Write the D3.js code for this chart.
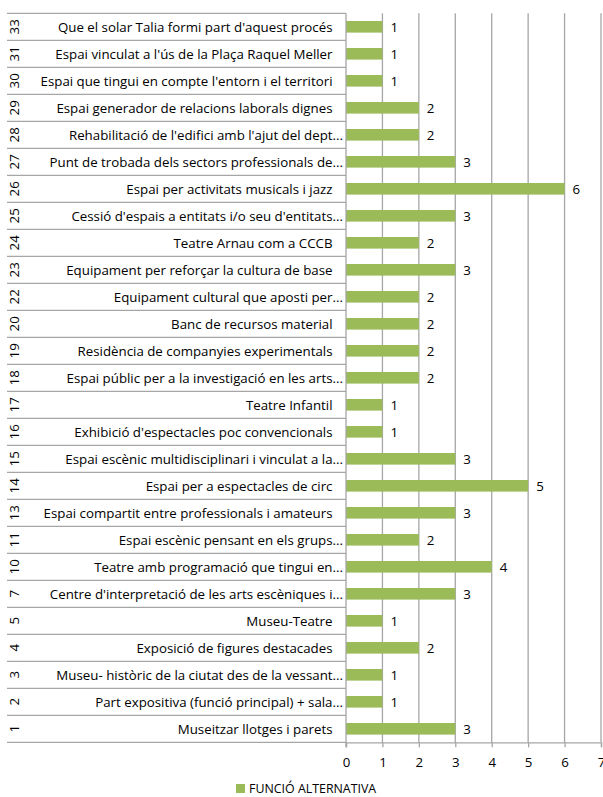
<!DOCTYPE html>
<html><head><meta charset="utf-8">
<script src="https://cdn.jsdelivr.net/npm/d3@7"></script>
<style>
html,body{margin:0;padding:0;background:#fff;}
svg{display:block;font-family:"Open Sans",sans-serif;}
</style></head>
<body>
<script>
const codes = ["33","31","30","29","28","27","26","25","24","23","22","20","19","18","17","16","15","14","13","11","10","7","5","4","3","2","1"];
const labels = [
 "Que el solar Talia formi part d'aquest procés",
 "Espai vinculat a l'ús de la Plaça Raquel Meller",
 "Espai que tingui en compte l'entorn i el territori",
 "Espai generador de relacions laborals dignes",
 "Rehabilitació de l'edifici amb l'ajut del dept...",
 "Punt de trobada dels sectors professionals de...",
 "Espai per activitats musicals i jazz",
 "Cessió d'espais a entitats i/o seu d'entitats...",
 "Teatre Arnau com a CCCB",
 "Equipament per reforçar la cultura de base",
 "Equipament cultural que aposti per...",
 "Banc de recursos material",
 "Residència de companyies experimentals",
 "Espai públic per a la investigació en les arts...",
 "Teatre Infantil",
 "Exhibició d'espectacles poc convencionals",
 "Espai escènic multidisciplinari i vinculat a la...",
 "Espai per a espectacles de circ",
 "Espai compartit entre professionals i amateurs",
 "Espai escènic pensant en els grups...",
 "Teatre amb programació que tingui en...",
 "Centre d'interpretació de les arts escèniques i...",
 "Museu-Teatre",
 "Exposició de figures destacades",
 "Museu- històric de la ciutat des de la vessant...",
 "Part expositiva (funció principal) + sala...",
 "Museitzar llotges i parets"
];
const values = [1,1,1,2,2,3,6,3,2,3,2,2,2,2,1,1,3,5,3,2,4,3,1,2,1,1,3];
const xTicks = [0,1,2,3,4,5,6,7];
const seriesName = "FUNCIÓ ALTERNATIVA";

(function () {
const W = 603, H = 797;
const pL = 346, pR = 601, pT = 13.3, pB = 742.3;
const green = "#9BBB59", grid = "#A6A6A6";
const fs = 13.3;

const svg = d3.select("body").append("svg").attr("width", W).attr("height", H);

const x = d3.scaleLinear().domain([0, 7]).range([pL, pR]);
const y = d3.scaleBand().domain(codes).range([pT, pB]).paddingInner(0.57).paddingOuter(0.285);
const rowStep = (pB - pT) / codes.length;

// vertical gridlines
svg.append("g").selectAll("line").data(xTicks.filter(d => d > 0)).join("line")
  .attr("x1", d => x(d)).attr("x2", d => x(d))
  .attr("y1", pT).attr("y2", pB)
  .attr("stroke", grid).attr("stroke-width", 1.3);

// row separator lines of category axis
const seps = d3.range(codes.length + 1).map(i => pT + i * rowStep);
svg.append("g").selectAll("line").data(seps).join("line")
  .attr("x1", 7).attr("x2", pL)
  .attr("y1", d => d).attr("y2", d => d)
  .attr("stroke", grid).attr("stroke-width", 1.3);

// bars
svg.append("g").selectAll("rect").data(values).join("rect")
  .attr("x", x(0))
  .attr("y", (d, i) => y(codes[i]))
  .attr("width", d => x(d) - x(0))
  .attr("height", y.bandwidth())
  .attr("fill", green);

// value labels
svg.append("g").selectAll("text").data(values).join("text")
  .attr("x", d => x(d) + 8)
  .attr("y", (d, i) => y(codes[i]) + y.bandwidth() / 2)
  .attr("dy", "0.36em")
  .attr("font-size", fs)
  .attr("fill", "#000")
  .text(d => d);

// category labels
svg.append("g").selectAll("text").data(labels).join("text")
  .attr("x", d => d.endsWith("...") ? 343 : 332.5)
  .attr("y", (d, i) => y(codes[i]) + y.bandwidth() / 2)
  .attr("dy", "0.36em")
  .attr("text-anchor", "end")
  .attr("font-size", fs)
  .attr("fill", "#000")
  .text(d => d);

// code labels (rotated)
svg.append("g").selectAll("text").data(codes).join("text")
  .attr("transform", d => `translate(14,${y(d) + y.bandwidth() / 2}) rotate(-90)`)
  .attr("text-anchor", "middle")
  .attr("dy", "0.36em")
  .attr("font-size", fs)
  .attr("fill", "#000")
  .text(d => d);

// x axis
const xAxis = d3.axisBottom(x).tickValues(xTicks).tickSize(5).tickPadding(10).tickFormat(d3.format("d"));
const gx = svg.append("g").attr("transform", `translate(0,${pB})`).call(xAxis);
gx.select(".domain").attr("stroke", grid).attr("stroke-width", 1.3);
gx.selectAll(".tick line").attr("stroke", grid).attr("stroke-width", 1.3);
gx.selectAll(".tick text").attr("font-size", fs).attr("fill", "#000").attr("font-family", "Open Sans, sans-serif");

// left axis line
svg.append("line").attr("x1", pL).attr("x2", pL).attr("y1", pT).attr("y2", pB + 5)
  .attr("stroke", grid).attr("stroke-width", 1.3);

// legend
const lg = svg.append("g").attr("transform", "translate(236,784)");
lg.append("rect").attr("x", 0).attr("y", 0).attr("width", 9).attr("height", 9).attr("fill", green);
lg.append("text").attr("x", 13).attr("y", 9).attr("font-size", 12.4).attr("fill", "#000").text(seriesName);
})();
</script>
</body></html>
